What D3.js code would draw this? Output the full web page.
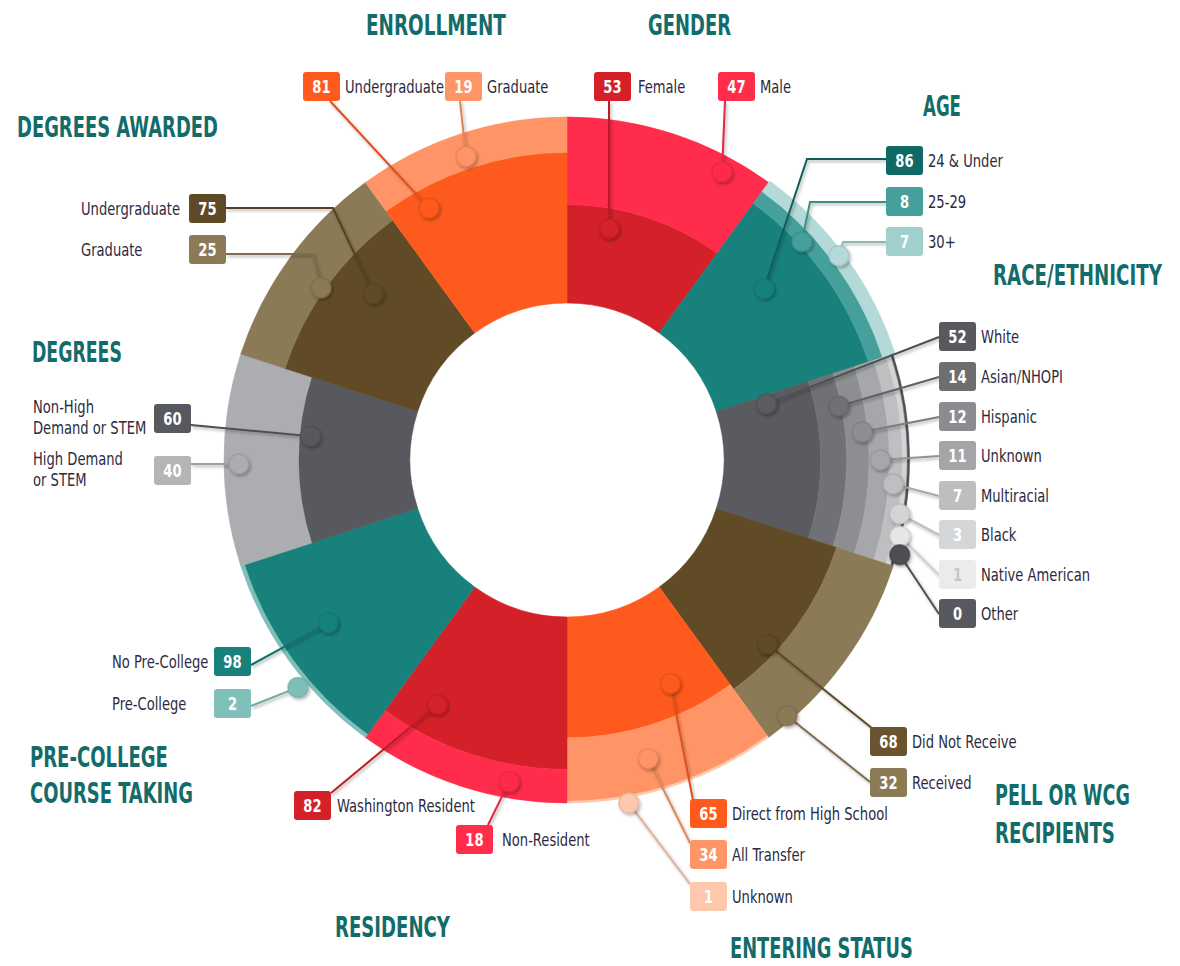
<!DOCTYPE html>
<html>
<head>
<meta charset="utf-8">
<script src="https://cdn.jsdelivr.net/npm/d3@7"></script>
<style>
  body { margin: 0; background: #fff; }
  svg { display: block; font-family: "Liberation Sans Narrow", "DejaVu Sans Condensed", "Arial Narrow", sans-serif; }
</style>
</head>
<body>
<div id="chart"></div>
<script>
// sections, clockwise from 12 o'clock
var sections = ["GENDER", "AGE", "RACE/ETHNICITY", "PELL OR WCG RECIPIENTS", "ENTERING STATUS",
                "RESIDENCY", "PRE-COLLEGE COURSE TAKING", "DEGREES", "DEGREES AWARDED", "ENROLLMENT"];

var genderLabels = ["Female", "Male"];
var genderValues = [53, 47];
var ageLabels = ["24 & Under", "25-29", "30+"];
var ageValues = [86, 8, 7];
var raceLabels = ["White", "Asian/NHOPI", "Hispanic", "Unknown", "Multiracial", "Black", "Native American", "Other"];
var raceValues = [52, 14, 12, 11, 7, 3, 1, 0];
var pellLabels = ["Did Not Receive", "Received"];
var pellValues = [68, 32];
var enteringLabels = ["Direct from High School", "All Transfer", "Unknown"];
var enteringValues = [65, 34, 1];
var residencyLabels = ["Washington Resident", "Non-Resident"];
var residencyValues = [82, 18];
var precollegeLabels = ["No Pre-College", "Pre-College"];
var precollegeValues = [98, 2];
var degreesLabels = ["Non-High|Demand or STEM", "High Demand|or STEM"];
var degreesValues = [60, 40];
var awardedLabels = ["Undergraduate", "Graduate"];
var awardedValues = [75, 25];
var enrollmentLabels = ["Undergraduate", "Graduate"];
var enrollmentValues = [81, 19];

// look of each section: colours, badge spots, marker spots (deg into sector, % along radius)
var layout = {
  "GENDER": {
    labels: genderLabels, values: genderValues,
    fill: ["#d42129", "#ff2c4b"], badge: ["#d42129", "#ff2c4b"],
    pos: [[594, 72], [718, 72]], tx: [638, 760],
    marker: [[10.3, 42], [28.3, 91.4]],
    anchor: [[15, 29], [7, 29]],
    title: [[648, 35, 83, "GENDER"]]
  },
  "AGE": {
    labels: ageLabels, values: ageValues,
    fill: ["#18817c", "#45a09b", "#b3dad8"], badge: ["#0f6a66", "#45a09b", "#9fd0cc"],
    pos: [[886, 146], [886, 187], [886, 227]],
    marker: [[13, 56], [11.1, 88], [17.1, 98.4]],
    anchor: [[0, 13], [0, 15], [0, 15]], elbow: [807, 810, 843],
    title: [[923, 116, 38, "AGE"]]
  },
  "RACE/ETHNICITY": {
    labels: raceLabels, values: raceValues,
    fill: ["#5a5b60", "#707176", "#8d8e92", "#a6a7aa", "#bebfc1", "#d3d4d5", "#e6e6e7", "#4d4e53"],
    badge: ["#58595e", "#6d6e72", "#8b8c90", "#a4a5a8", "#bdbec0", "#d5d6d7", "#ebebeb", "#58595e"],
    pos: [[939, 322], [939, 362], [939, 402], [939, 441], [939, 481], [939, 520], [939, 560], [939, 599]],
    marker: [[2.3, 27], [6.8, 64.5], [12.6, 75], [18, 84], [22.2, 91.4], [27.2, 96.8], [30.9, 99.2], [33.9, 101.6]],
    anchor: [[0, 15], [0, 15], [0, 15], [0, 15], [0, 15], [0, 15], [0, 15], [0, 15]],
    title: [[993, 285, 169, "RACE/ETHNICITY"]]
  },
  "PELL OR WCG RECIPIENTS": {
    labels: pellLabels, values: pellValues,
    fill: ["#614b27", "#8b7a56"], badge: ["#6a532f", "#8b7a56"],
    pos: [[870, 727], [870, 768]],
    marker: [[24.6, 62], [31.3, 97]],
    anchor: [[3, 2], [0, 14]],
    title: [[995, 805, 135, "PELL OR WCG"], [995, 843, 120, "RECIPIENTS"]]
  },
  "ENTERING STATUS": {
    labels: enteringLabels, values: enteringValues,
    fill: ["#fe5a1d", "#ff9566", "#ffc8ad"], badge: ["#fe5a1d", "#ff9566", "#ffc8ad"],
    pos: [[690, 799], [690, 840], [690, 882]],
    marker: [[11.2, 48], [20.8, 82], [25.8, 103]],
    anchor: [[3, 1], [0, 3], [0, 2]],
    title: [[730, 958, 183, "ENTERING STATUS"]]
  },
  "RESIDENCY": {
    labels: residencyLabels, values: residencyValues,
    fill: ["#d42129", "#ff2c4b"], badge: ["#d42129", "#ff2c4b"],
    pos: [[294, 791], [456, 825]], tx: [337, 502],
    marker: [[27.9, 64.5], [10.2, 91.4]],
    anchor: [[37, 2], [32, 0]],
    title: [[335, 937, 115, "RESIDENCY"]]
  },
  "PRE-COLLEGE COURSE TAKING": {
    labels: precollegeLabels, values: precollegeValues,
    fill: ["#18817c", "#7fbfba"], badge: ["#18817c", "#80c0bb"],
    pos: [[214, 647], [214, 689]], tx: [112, 112],
    marker: [[19.7, 71], [13.8, 105]],
    anchor: [[37, 18], [37, 17]],
    title: [[30, 767, 138, "PRE-COLLEGE"], [30, 803, 163, "COURSE TAKING"]]
  },
  "DEGREES": {
    labels: degreesLabels, values: degreesValues,
    fill: ["#58595f", "#acadb0"], badge: ["#58595e", "#b4b5b7"],
    pos: [[154, 404], [154, 456]], tx: [33, 33],
    marker: [[23.3, 54], [17.3, 92]],
    anchor: [[37, 21], [37, 8]],
    title: [[32, 362, 90, "DEGREES"]]
  },
  "DEGREES AWARDED": {
    labels: awardedLabels, values: awardedValues,
    fill: ["#614b27", "#8b7a56"], badge: ["#5f4a27", "#8b7a56"],
    pos: [[189, 194], [189, 235]], tx: [81, 81],
    marker: [[22.6, 52.7], [17, 77]],
    anchor: [[37, 14], [37, 19]], elbow: [333, 313],
    title: [[17, 137, 201, "DEGREES AWARDED"]]
  },
  "ENROLLMENT": {
    labels: enrollmentLabels, values: enrollmentValues,
    fill: ["#fe5a1d", "#ff9566"], badge: ["#fe5a1d", "#ff9566"],
    pos: [[303, 72], [445, 72]],
    marker: [[7.3, 70], [17.6, 87.6]],
    anchor: [[27, 29], [15, 29]],
    title: [[366, 35, 140, "ENROLLMENT"]]
  }
};

var width = 1180, height = 966;
var cx = 567, cy = 460;
var bw = 37, bh = 29;

var svg = d3.select("#chart").append("svg")
    .attr("width", width)
    .attr("height", height);

var defs = svg.append("defs");
defs.append("filter")
    .attr("id", "shadow")
    .attr("filterUnits", "userSpaceOnUse")
    .attr("x", 0).attr("y", 0).attr("width", width).attr("height", height)
  .append("feDropShadow")
    .attr("dx", 1.5).attr("dy", 2)
    .attr("stdDeviation", 1.8)
    .attr("flood-color", "#000")
    .attr("flood-opacity", 0.3);

var angle = d3.scaleBand().domain(sections).range([0, 2 * Math.PI]).padding(0);
var radius = d3.scaleLinear().domain([0, 100]).range([157, 343]);
var arc = d3.arc();

var ring = svg.append("g").attr("transform", "translate(" + cx + "," + cy + ")");
var lines = svg.append("g");
var marks = svg.append("g");
var badges = svg.append("g");

// squeeze text horizontally around x so it reads like the condensed face of the original
function squeeze(sel, x, k) {
    sel.attr("transform", "translate(" + x + ",0) scale(" + k + ",1) translate(" + (-x) + ",0)");
}

// one factor for all labels, from a label whose width is known in the original
var probe = svg.append("text").attr("font-size", 17).text("Washington Resident");
var labelK = 138 / probe.node().getComputedTextLength();
probe.remove();

sections.forEach(function (name) {
    var s = layout[name];
    var a0 = angle(name), a1 = a0 + angle.bandwidth();
    var cum = 0;

    s.values.forEach(function (v, i) {
        var r0 = radius(cum), r1 = radius(cum + v);
        cum += v;
        if (v === 0) { r0 = r0 - 2.5; r1 = r1 - 0.5; }
        ring.append("path")
            .attr("d", arc({ innerRadius: r0, outerRadius: r1, startAngle: a0, endAngle: a1 }))
            .attr("fill", s.fill[i])
            .attr("stroke", s.fill[i])
            .attr("stroke-width", 0.6);

        // marker inside the ring
        var ma = a0 + s.marker[i][0] * Math.PI / 180;
        var mr = radius(s.marker[i][1]);
        var mx = cx + mr * Math.sin(ma), my = cy - mr * Math.cos(ma);

        var bx = s.pos[i][0], by = s.pos[i][1];
        var ax = bx + s.anchor[i][0], ay = by + s.anchor[i][1];
        var pts = [[ax, ay]];
        if (s.elbow) pts.push([s.elbow[i], ay]);
        pts.push([mx, my]);

        var lineCol = d3.color(s.badge[i]).darker(0.35).toString();
        lines.append("path")
            .attr("d", d3.line()(pts))
            .attr("fill", "none")
            .attr("stroke", lineCol)
            .attr("stroke-width", 2)
            .attr("filter", "url(#shadow)");

        marks.append("circle")
            .attr("cx", mx).attr("cy", my).attr("r", 10)
            .attr("fill", s.fill[i])
            .attr("stroke", d3.color(s.fill[i]).darker(0.4).toString())
            .attr("stroke-opacity", 0.6)
            .attr("stroke-width", 1.5)
            .attr("filter", "url(#shadow)");

        badges.append("rect")
            .attr("x", bx).attr("y", by)
            .attr("width", bw).attr("height", bh)
            .attr("rx", 3)
            .attr("fill", s.badge[i]);
        var num = badges.append("text")
            .attr("x", bx + bw / 2).attr("y", by + 21)
            .attr("text-anchor", "middle")
            .attr("font-size", 17)
            .attr("font-weight", "bold")
            .attr("fill", d3.hsl(s.badge[i]).l > 0.88 ? "#c6c6c6" : "#fff")
            .text(v);
        squeeze(num, bx + bw / 2, labelK);

        // category label
        var parts = s.labels[i].split("|");
        var tx = s.tx ? s.tx[i] : bx + 42;
        var t = badges.append("text")
            .attr("x", tx)
            .attr("font-size", 17)
            .attr("fill", "#2c2a40");
        if (parts.length === 1) {
            t.attr("y", by + 21).text(parts[0]);
        } else {
            parts.forEach(function (p, k) {
                t.append("tspan").attr("x", tx).attr("y", by + 9 + k * 21).text(p);
            });
        }
        squeeze(t, tx, labelK);
    });

    s.title.forEach(function (tt) {
        var title = svg.append("text")
            .attr("x", tt[0]).attr("y", tt[1])
            .attr("font-size", 28)
            .attr("font-weight", "bold")
            .attr("fill", "#136c6a")
            .text(tt[3]);
        squeeze(title, tt[0], tt[2] / title.node().getComputedTextLength());
    });
});
</script>
</body>
</html>
